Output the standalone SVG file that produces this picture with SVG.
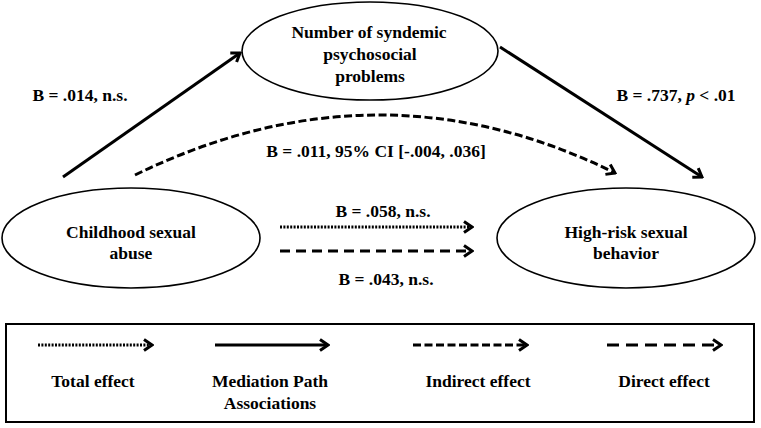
<svg xmlns="http://www.w3.org/2000/svg" width="761" height="428" viewBox="0 0 761 428">
<style>
.node{fill:#fff;stroke:#000;stroke-width:1.6}
.t{font-family:"Liberation Serif","Times New Roman",serif;font-weight:bold;font-size:17.5px;fill:#000;text-anchor:middle}
.ln{fill:none;stroke:#000;stroke-width:3}
.dot{stroke-dasharray:2 1.4;stroke-width:3}
.ind{stroke-dasharray:8 3.5}
.dir{stroke-dasharray:10 6}
</style>
<defs>
<marker id="ah" markerUnits="userSpaceOnUse" markerWidth="12" markerHeight="14" viewBox="0 0 12 14" refX="10" refY="7" orient="auto">
<path d="M2,1.5 L10,7 L2,12.5" fill="none" stroke="#000" stroke-width="3" stroke-dasharray="none" stroke-linejoin="miter"/>
</marker>
</defs>
<rect width="761" height="428" fill="#fff"/>
<g id="connectors">
<line class="ln" x1="63" y1="177" x2="240" y2="53" marker-end="url(#ah)"/>
<line class="ln" x1="500" y1="47" x2="702" y2="177" marker-end="url(#ah)"/>
<path class="ln ind" d="M135,175 Q379,56 615,173" marker-end="url(#ah)"/>
<line class="ln dot" x1="280" y1="227" x2="472" y2="227" marker-end="url(#ah)"/>
<line class="ln dir" x1="280" y1="251" x2="472" y2="251" marker-end="url(#ah)"/>
<text class="t" x="80" y="101">B = .014, n.s.</text>
<text class="t" x="676" y="101">B = .737, <tspan font-style="italic">p</tspan> &lt; .01</text>
<text class="t" x="376" y="157">B = .011, 95% CI [-.004, .036]</text>
<text class="t" x="383" y="217">B = .058, n.s.</text>
<text class="t" x="386" y="285">B = .043, n.s.</text>
</g>
<g id="node-mediator">
<ellipse class="node" cx="370" cy="51" rx="128" ry="49"/>
<text class="t" x="369" y="38">Number of syndemic</text>
<text class="t" x="370" y="60">psychosocial</text>
<text class="t" x="370" y="82">problems</text>
</g>
<g id="node-csa">
<ellipse class="node" cx="131" cy="238" rx="129" ry="50"/>
<text class="t" x="131" y="238">Childhood sexual</text>
<text class="t" x="131" y="259">abuse</text>
</g>
<g id="node-hrsb">
<ellipse class="node" cx="626" cy="238" rx="129" ry="50"/>
<text class="t" x="626" y="238">High-risk sexual</text>
<text class="t" x="626" y="259">behavior</text>
</g>
<g id="legend">
<rect x="6" y="324" width="748" height="98" fill="#fff" stroke="#000" stroke-width="2"/>
<line class="ln dot" x1="38" y1="345" x2="152" y2="345" marker-end="url(#ah)"/>
<line class="ln" x1="215" y1="345" x2="328" y2="345" marker-end="url(#ah)"/>
<line class="ln ind" x1="413" y1="345" x2="527" y2="345" marker-end="url(#ah)"/>
<line class="ln" stroke-dasharray="12 7" x1="607" y1="345" x2="721" y2="345" marker-end="url(#ah)"/>
<text class="t" x="93" y="387">Total effect</text>
<text class="t" x="270" y="387">Mediation Path</text>
<text class="t" x="270" y="409">Associations</text>
<text class="t" x="478" y="387">Indirect effect</text>
<text class="t" x="664" y="387">Direct effect</text>
</g>
</svg>
